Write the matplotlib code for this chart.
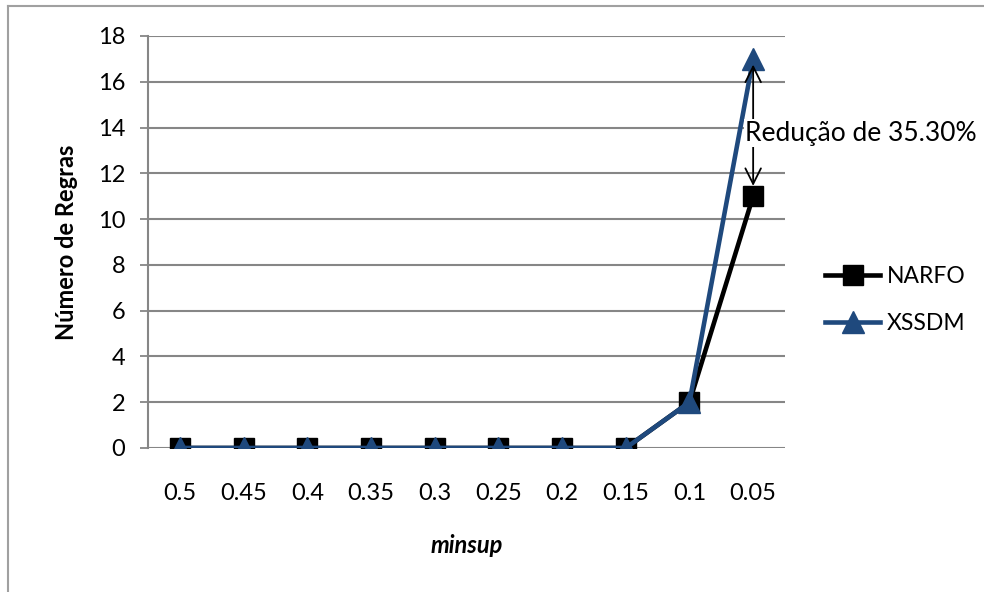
import matplotlib.pyplot as plt
from matplotlib.lines import Line2D

# valores de minsup e número de regras por método
minsup = ['0.5', '0.45', '0.4', '0.35', '0.3', '0.25', '0.2', '0.15', '0.1', '0.05']
narfo = [0, 0, 0, 0, 0, 0, 0, 0, 2, 11]
xssdm = [0, 0, 0, 0, 0, 0, 0, 0, 2, 17]
reducao = '35.30%'

plt.rcParams['font.family'] = ['Lato', 'DejaVu Sans']

azul = '#1F497D'
cinza = '#868686'

fig = plt.figure(figsize=(9.84, 5.92), dpi=100)
ax = fig.add_axes([148 / 984, 1 - 448 / 592, 637 / 984, 412 / 592])

x = [i + 0.5 for i in range(len(minsup))]
ax.plot(x, narfo, color='black', lw=3.3, marker='s', ms=14, zorder=3, label='NARFO')
ax.plot(x, xssdm, color=azul, lw=3.3, marker='^', ms=16, zorder=4, label='XSSDM')

ax.set_xlim(0, len(minsup))
ax.set_ylim(0, 18)
ax.set_yticks(range(0, 19, 2))
ax.set_xticks(x)
ax.set_xticklabels(minsup)
ax.tick_params(axis='y', length=5.5, width=1.3, color=cinza, labelsize=17, pad=11)
ax.tick_params(axis='x', length=0, labelsize=17, pad=25)
ax.yaxis.grid(True, color=cinza, lw=1.5)
ax.set_axisbelow(True)
for lado in ['top', 'right', 'bottom']:
    ax.spines[lado].set_visible(False)
ax.spines['left'].set_color(cinza)
ax.spines['left'].set_linewidth(1.5)
for c in ax.spines.values():
    c.set_clip_on(False)

ax.set_ylabel('Número de Regras', fontsize=17, fontweight='bold', labelpad=14)
ax.set_xlabel('minsup', fontsize=17, fontweight='bold', style='italic', labelpad=22)

# seta dupla mostrando a redução entre os dois métodos no último ponto
ax.annotate('', xy=(x[-1], xssdm[-1] - 0.25), xytext=(x[-1], narfo[-1] + 0.45),
            arrowprops=dict(arrowstyle='<->', color='black', lw=1.3,
                            mutation_scale=28, shrinkA=0, shrinkB=0), zorder=5)
ax.text(x[-1] - 0.13, 13.75, 'Redução de ' + reducao, fontsize=19, ha='left', va='center',
        bbox=dict(facecolor='white', edgecolor='none', pad=1), zorder=6, clip_on=False)

handles = [Line2D([], [], color='black', lw=3.3, marker='s', ms=14),
           Line2D([], [], color=azul, lw=3.3, marker='^', ms=16)]
fig.legend(handles, ['NARFO', 'XSSDM'], loc='center left', bbox_to_anchor=(825 / 984, 1 - 300 / 592),
           frameon=False, fontsize=16.5, handlelength=2.4, handletextpad=0.3, labelspacing=1.1,
           borderaxespad=0, borderpad=0)

# moldura externa do gráfico
fig.add_artist(Line2D([8 / 984, 8 / 984], [0, 1 - 6 / 592], color='#A0A0A0', lw=1.5))
fig.add_artist(Line2D([8 / 984, 1], [1 - 6 / 592, 1 - 6 / 592], color='#A0A0A0', lw=1.5))

fig.savefig('out.png', dpi=100)
